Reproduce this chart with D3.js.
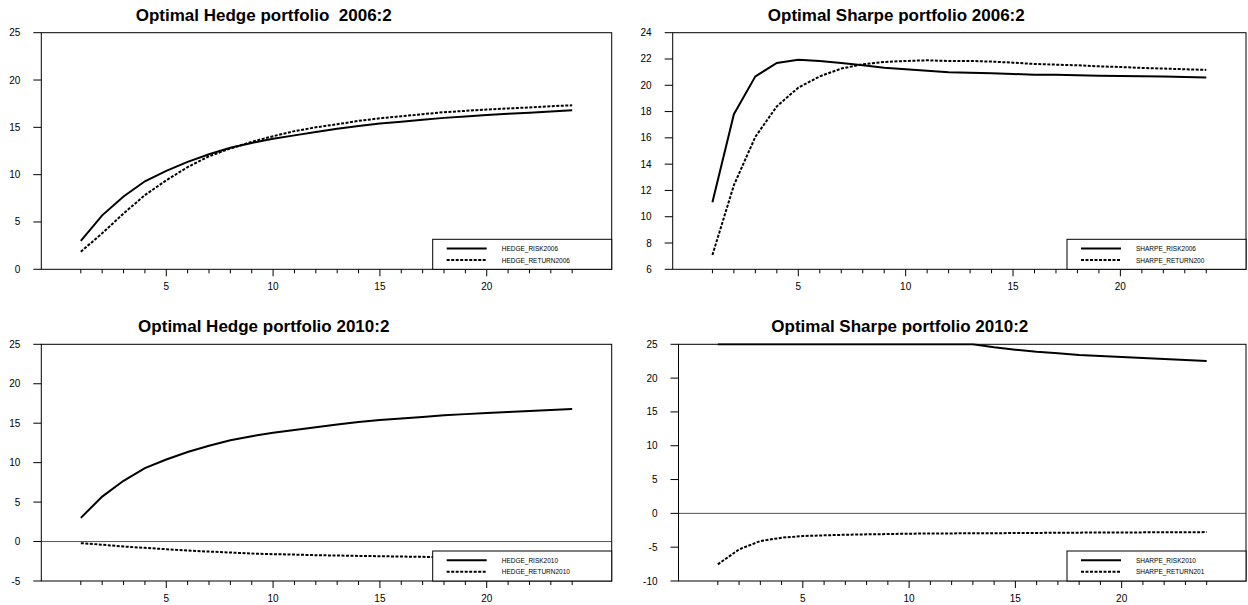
<!DOCTYPE html>
<html lang="en">
<head>
<meta charset="utf-8">
<title>Optimal portfolios</title>
<script src="https://cdnjs.cloudflare.com/ajax/libs/d3/7.8.5/d3.min.js"></script>
<style>
  body { margin: 0; background: #fff; }
  svg { display: block; font-family: "Liberation Sans", Arial, sans-serif; }
  .title { white-space: pre; }
</style>
</head>
<body>
<script>
// horizon steps
var steps = [1,2,3,4,5,6,7,8,9,10,11,12,13,14,15,16,17,18,19,20,21,22,23,24];
var xTickLabels = [5, 10, 15, 20];

var hedgeRisk2006   = [3.0,5.7,7.7,9.3,10.4,11.35,12.15,12.85,13.35,13.8,14.15,14.5,14.85,15.15,15.4,15.6,15.8,16.0,16.15,16.3,16.43,16.55,16.68,16.8];
var hedgeReturn2006 = [1.86,3.8,5.9,7.84,9.4,10.8,11.95,12.76,13.47,14.06,14.6,15.0,15.33,15.68,15.96,16.17,16.39,16.6,16.74,16.88,17.0,17.1,17.23,17.33];

var sharpeRisk2006   = [11.1,17.8,20.68,21.7,21.95,21.85,21.7,21.52,21.34,21.22,21.11,21.0,20.96,20.91,20.86,20.81,20.81,20.76,20.73,20.71,20.68,20.66,20.63,20.6];
var sharpeReturn2006 = [7.09,12.4,16.08,18.4,19.82,20.68,21.27,21.6,21.77,21.85,21.9,21.85,21.85,21.8,21.72,21.62,21.57,21.52,21.44,21.39,21.32,21.27,21.22,21.17];

var hedgeRisk2010   = [3.0,5.7,7.7,9.3,10.4,11.35,12.15,12.85,13.35,13.8,14.15,14.5,14.85,15.15,15.4,15.6,15.8,16.0,16.15,16.3,16.43,16.55,16.68,16.8];
var hedgeReturn2010 = [-0.2,-0.4,-0.63,-0.8,-0.97,-1.14,-1.27,-1.39,-1.52,-1.6,-1.65,-1.73,-1.77,-1.82,-1.86,-1.9,-1.94,-1.98,-2.02,-2.05,-2.08,-2.11,-2.14,-2.16];

var sharpeRisk2010   = [25,25,25,25,25,25,25,25,25,25,25,25,25,24.56,24.2,23.9,23.67,23.42,23.27,23.13,22.98,22.83,22.68,22.53];
var sharpeReturn2010 = [-7.54,-5.33,-4.09,-3.6,-3.35,-3.25,-3.16,-3.1,-3.06,-3.0,-2.98,-2.96,-2.95,-2.93,-2.91,-2.89,-2.87,-2.85,-2.83,-2.82,-2.81,-2.8,-2.79,-2.77];

var yTicksHedge2006  = [0, 5, 10, 15, 20, 25];
var yTicksSharpe2006 = [6, 8, 10, 12, 14, 16, 18, 20, 22, 24];
var yTicksHedge2010  = [-5, 0, 5, 10, 15, 20, 25];
var yTicksSharpe2010 = [-10, -5, 0, 5, 10, 15, 20, 25];

var w = 1248, h = 605;

var panels = [
  { title: "Optimal Hedge portfolio  2006:2", left: 41.3, right: 611.7, top: 32.7, bottom: 269.3,
    yDomain: [0, 25], yTicks: yTicksHedge2006, solid: hedgeRisk2006, dashed: hedgeReturn2006,
    names: ["HEDGE_RISK2006", "HEDGE_RETURN2006"], zero: false },
  { title: "Optimal Sharpe portfolio 2006:2", left: 672.7, right: 1246, top: 32.7, bottom: 269.3,
    yDomain: [6, 24], yTicks: yTicksSharpe2006, solid: sharpeRisk2006, dashed: sharpeReturn2006,
    names: ["SHARPE_RISK2006", "SHARPE_RETURN200"], zero: false },
  { title: "Optimal Hedge portfolio 2010:2", left: 41.3, right: 611.7, top: 344.3, bottom: 581,
    yDomain: [-5, 25], yTicks: yTicksHedge2010, solid: hedgeRisk2010, dashed: hedgeReturn2010,
    names: ["HEDGE_RISK2010", "HEDGE_RETURN2010"], zero: true },
  { title: "Optimal Sharpe portfolio 2010:2", left: 678.5, right: 1246, top: 344.3, bottom: 581,
    yDomain: [-10, 25], yTicks: yTicksSharpe2010, solid: sharpeRisk2010, dashed: sharpeReturn2010,
    names: ["SHARPE_RISK2010", "SHARPE_RETURN201"], zero: true }
];

var svg = d3.select("body").append("svg")
  .attr("width", w)
  .attr("height", h);

panels.forEach(function(p, pi) {
  var x = d3.scaleLinear().domain([-0.85, 25.85]).range([p.left, p.right]);
  var y = d3.scaleLinear().domain(p.yDomain).range([p.bottom, p.top]);
  var g = svg.append("g");

  // title
  g.append("text")
    .attr("class", "title")
    .attr("x", p.left + 0.39 * (p.right - p.left))
    .attr("y", p.top - 12)
    .attr("text-anchor", "middle")
    .attr("font-size", "17px")
    .attr("font-weight", "bold")
    .text(p.title);

  // zero line
  if (p.zero) {
    g.append("line")
      .attr("x1", p.left).attr("x2", p.right)
      .attr("y1", y(0)).attr("y2", y(0))
      .attr("stroke", "#555").attr("stroke-width", 1);
  }

  // clip for lines
  svg.append("clipPath").attr("id", "clip" + pi)
    .append("rect")
    .attr("x", p.left).attr("y", p.top - 1)
    .attr("width", p.right - p.left).attr("height", p.bottom - p.top + 2);

  var line = d3.line()
    .x(function(d, i) { return x(steps[i]); })
    .y(function(d) { return y(d); });

  g.append("path")
    .datum(p.solid)
    .attr("clip-path", "url(#clip" + pi + ")")
    .attr("fill", "none")
    .attr("stroke", "#000")
    .attr("stroke-width", 2)
    .attr("d", line);

  g.append("path")
    .datum(p.dashed)
    .attr("clip-path", "url(#clip" + pi + ")")
    .attr("fill", "none")
    .attr("stroke", "#000")
    .attr("stroke-width", 2)
    .attr("stroke-dasharray", "3,1.5")
    .attr("d", line);

  // x axis ticks (every step, longer at labelled ones)
  g.selectAll(".xt").data(steps).enter().append("line")
    .attr("x1", function(d) { return x(d); })
    .attr("x2", function(d) { return x(d); })
    .attr("y1", p.bottom)
    .attr("y2", function(d) { return p.bottom + (xTickLabels.indexOf(d) >= 0 ? 7 : 4); })
    .attr("stroke", "#000").attr("stroke-width", 1);

  g.selectAll(".xl").data(xTickLabels).enter().append("text")
    .attr("x", function(d) { return x(d); })
    .attr("y", p.bottom + 21)
    .attr("text-anchor", "middle")
    .attr("font-size", "10px")
    .text(function(d) { return d; });

  // y axis ticks
  g.selectAll(".yt").data(p.yTicks).enter().append("line")
    .attr("x1", p.left - 8).attr("x2", p.left)
    .attr("y1", function(d) { return y(d); })
    .attr("y2", function(d) { return y(d); })
    .attr("stroke", "#000").attr("stroke-width", 1);

  g.selectAll(".yl").data(p.yTicks).enter().append("text")
    .attr("x", p.left - 21)
    .attr("y", function(d) { return y(d) + 3.5; })
    .attr("text-anchor", "end")
    .attr("font-size", "10px")
    .text(function(d) { return d; });

  // frame
  g.append("rect")
    .attr("x", p.left).attr("y", p.top)
    .attr("width", p.right - p.left).attr("height", p.bottom - p.top)
    .attr("fill", "none").attr("stroke", "#000").attr("stroke-width", 1);

  // legend
  var lx = p.right - 179, ly = p.bottom - 30;
  g.append("rect")
    .attr("x", lx).attr("y", ly)
    .attr("width", p.right - lx).attr("height", 30)
    .attr("fill", "#fff").attr("stroke", "#000").attr("stroke-width", 1);

  [9.3, 20.8].forEach(function(dy, k) {
    g.append("line")
      .attr("x1", lx + 14).attr("x2", lx + 54)
      .attr("y1", ly + dy).attr("y2", ly + dy)
      .attr("stroke", "#000").attr("stroke-width", 2)
      .attr("stroke-dasharray", k === 1 ? "3,1.5" : null);
    g.append("text")
      .attr("x", lx + 69)
      .attr("y", ly + dy + 2.4)
      .attr("font-size", "6.5px")
      .text(p.names[k]);
  });
});
</script>
</body>
</html>
